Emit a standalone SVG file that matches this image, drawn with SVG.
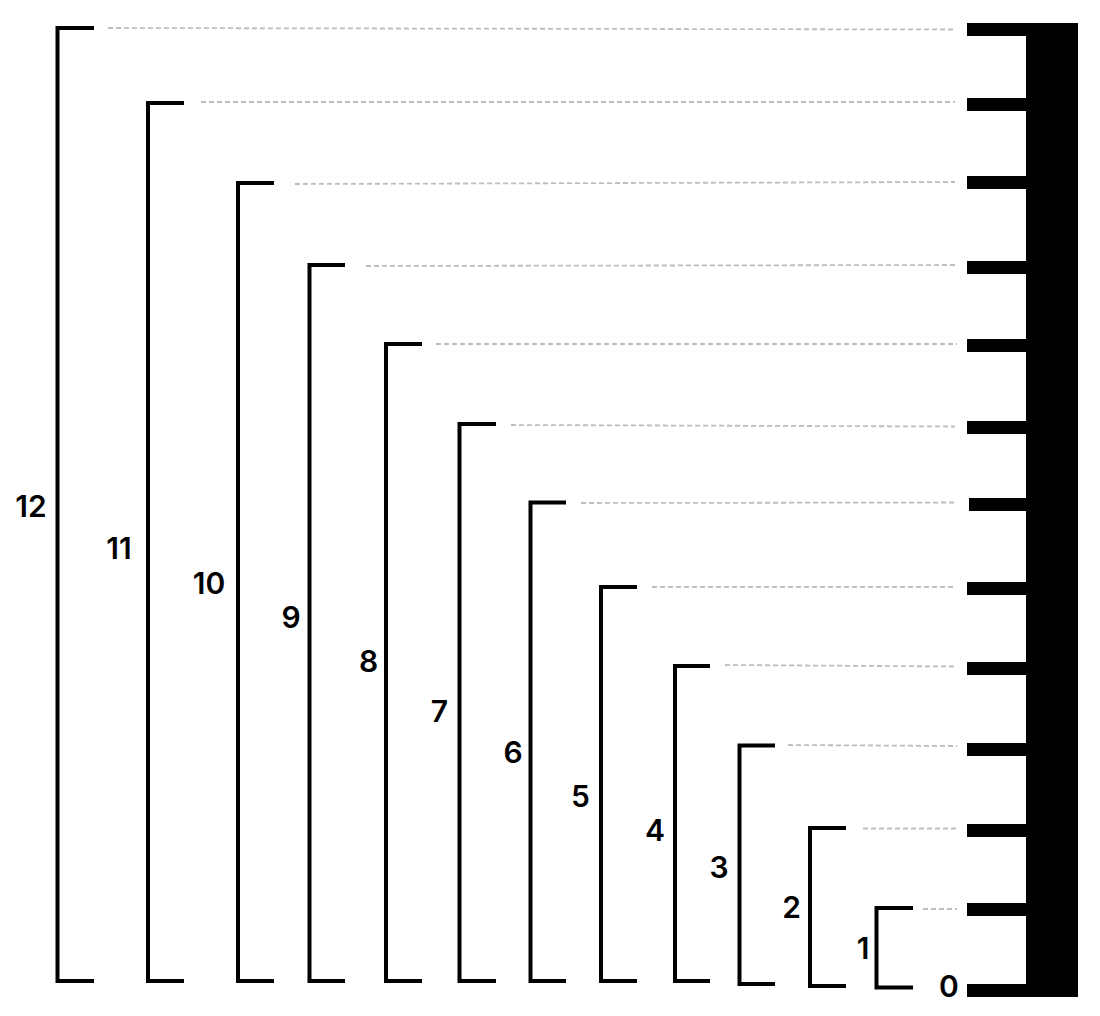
<svg xmlns="http://www.w3.org/2000/svg" width="1100" height="1016" viewBox="0 0 1100 1016">
<style>
.br{fill:none;stroke:#000;stroke-width:4;stroke-linejoin:miter;stroke-linecap:butt}
.lb{font-family:Inter,"Noto Sans","DejaVu Sans",sans-serif;font-weight:600;font-size:30px;fill:#000;text-anchor:middle}
.dl{stroke:#bdbdbd;stroke-width:1.8;stroke-dasharray:5 3;fill:none}
.tk{fill:#000}
</style>
<rect width="1100" height="1016" fill="#fff"/>
<g id="ruler">
<rect class="tk" x="1026" y="23" width="52" height="974"/>
<rect class="tk" x="967" y="23" width="60" height="13"/>
<rect class="tk" x="967" y="98" width="60" height="13"/>
<rect class="tk" x="967" y="176" width="60" height="13"/>
<rect class="tk" x="967" y="261" width="60" height="13"/>
<rect class="tk" x="967" y="339" width="60" height="13"/>
<rect class="tk" x="967" y="421" width="60" height="13"/>
<rect class="tk" x="969" y="498" width="60" height="13"/>
<rect class="tk" x="967" y="582" width="60" height="13"/>
<rect class="tk" x="967" y="662" width="60" height="13"/>
<rect class="tk" x="967" y="743" width="60" height="13"/>
<rect class="tk" x="967" y="824" width="60" height="13"/>
<rect class="tk" x="967" y="903" width="60" height="13"/>
<rect class="tk" x="967" y="984" width="60" height="13"/>
</g>
<g id="connectors">
<line class="dl" x1="108" y1="28" x2="955" y2="29.5"/>
<line class="dl" x1="201" y1="102" x2="955" y2="102"/>
<line class="dl" x1="295" y1="184" x2="955" y2="182"/>
<line class="dl" x1="366" y1="266" x2="955" y2="265"/>
<line class="dl" x1="436" y1="344" x2="957" y2="344"/>
<line class="dl" x1="511" y1="425" x2="955" y2="426.5"/>
<line class="dl" x1="581" y1="503" x2="957" y2="502.5"/>
<line class="dl" x1="652" y1="587" x2="955" y2="587"/>
<line class="dl" x1="725" y1="665" x2="957" y2="666.5"/>
<line class="dl" x1="788" y1="745" x2="957" y2="746"/>
<line class="dl" x1="863" y1="828.5" x2="957" y2="828.5"/>
<line class="dl" x1="923" y1="909" x2="957" y2="909"/>
</g>
<g id="n12"><path class="br" d="M94 28 H57.5 V981 H94"/><text class="lb" x="31" y="517">12</text></g>
<g id="n11"><path class="br" d="M184 103 H148 V981 H184"/><text class="lb" x="119" y="559">11</text></g>
<g id="n10"><path class="br" d="M274 183 H238 V981 H274"/><text class="lb" x="209" y="594">10</text></g>
<g id="n9"><path class="br" d="M345 265 H309.5 V981 H345"/><text class="lb" x="291" y="628">9</text></g>
<g id="n8"><path class="br" d="M422 344 H386 V981 H422"/><text class="lb" x="368.5" y="672">8</text></g>
<g id="n7"><path class="br" d="M496 424 H459.5 V981 H496"/><text class="lb" x="439.5" y="722">7</text></g>
<g id="n6"><path class="br" d="M566 502.5 H530.5 V981 H566"/><text class="lb" x="513" y="763">6</text></g>
<g id="n5"><path class="br" d="M637 587 H601 V981 H637"/><text class="lb" x="580.5" y="807">5</text></g>
<g id="n4"><path class="br" d="M710 666 H675 V981 H710"/><text class="lb" x="655" y="841">4</text></g>
<g id="n3"><path class="br" d="M775 745.5 H739.5 V984 H775"/><text class="lb" x="719" y="878">3</text></g>
<g id="n2"><path class="br" d="M846 828 H810 V986 H846"/><text class="lb" x="791.5" y="918">2</text></g>
<g id="n1"><path class="br" d="M913 908 H876.5 V987.5 H913"/><text class="lb" x="863" y="959">1</text></g>
<g id="n0"><text class="lb" x="949" y="997">0</text></g>
</svg>
